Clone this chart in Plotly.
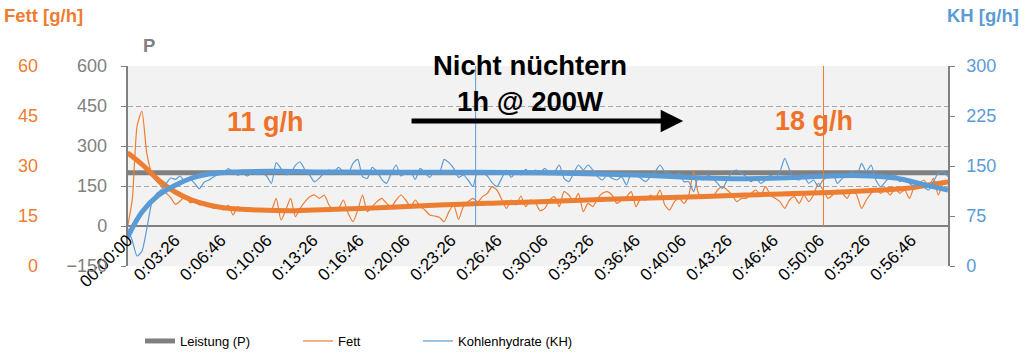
import plotly.graph_objects as go

W, H = 1024, 358

# ---------------- data ----------------
SAMPLE_STEP_S = 20.85  # resampled interval of the read-off series

fett_gh = [
    11.7, 20, 42, 46.5, 34, 28, 25.5, 24, 22, 20.5,
    18.5, 19.5, 21, 19, 19.3, 18.3, 18.8, 18, 17.3, 17.8,
    16.8, 18.3, 15.3, 17.8, 16.8, 17.3, 17.3, 16.8, 16.3, 16.8,
    16.8, 20.3, 13.8, 16.8, 20.3, 14.8, 17.3, 19.3, 20.8, 21.3,
    20.3, 21.3, 18.3,
    16.8, 17.3, 19.8, 15.8, 13.3, 16.8, 21.3, 16.3, 17.8, 19.3,
    20.3, 18.8, 17.8, 19.8, 21.3, 19.8, 17.8, 19.8, 17.8, 16.8,
    15.3, 15.0, 14.6, 13.3, 16.3, 18.3, 14.0, 17.8, 19.3, 20.3,
    19.3, 20.8, 21.8, 23.8, 22.8, 20.0, 17.3, 19.8, 18.3, 21.0,
    17.8, 19.8, 19.0, 16.6,
    17.3, 19.8, 20.8, 17.8, 22.3, 21.3, 19.3, 21.8, 16.3, 18.8,
    17.8, 20.3, 21.8, 22.3, 21.3, 18.8, 19.8, 20.8, 22.3, 17.8,
    20.3, 19.8, 21.3, 20.3, 22.8, 18.3, 16.8, 19.3, 20.3, 18.8,
    21.3, 28.3, 21.8, 20.3, 21.3, 20.8, 22.8, 23.8, 22.8, 21.3,
    19.3, 20.3,
    20.3, 21.8, 22.8, 21.3, 23.8, 21.3, 20.3, 19.3, 17.3, 19.8,
    20.8, 18.8, 21.3, 19.3, 21.3, 24.8, 22.8, 20.3, 21.3, 22.8,
    21.8, 20.3, 22.8, 21.3, 17.3, 19.8, 21.8, 23.3, 21.8, 22.8,
    21.3, 23.3, 21.8, 22.8, 20.3, 23.8, 24.8, 25.8, 23.8, 26.3,
    21.3, 24.8, 25.8,
]

kh_gh = [
    57, 38, 15, 22, 55, 93, 108, 114, 123, 132,
    130, 135, 126, 131, 124, 116, 126, 129, 134, 137,
    139, 146, 141, 136, 139, 135, 140, 137, 139, 135,
    124, 155, 146, 137, 139, 151, 156, 144, 136, 126,
    132, 140, 144,
    141.5, 148, 141.5, 139, 154, 160, 134, 131.5, 148, 141.5,
    130, 124, 139, 151.5, 135, 139, 141.5, 130, 146.5, 140,
    133, 141.5, 139, 160, 155, 146.5, 133, 136.5, 129, 119,
    143, 140, 135, 125, 119, 131.5, 144, 133, 141.5, 136.5,
    145, 139, 144, 140,
    146.5, 139, 141.5, 151.5, 131.5, 126.5, 139, 151.5, 144, 151.5,
    144, 134, 129, 136.5, 131.5, 129, 134, 121.5, 139, 136.5,
    131.5, 126.5, 134, 141.5, 151.5, 141.5, 139, 134, 139, 126.5,
    126.5, 111.5, 134, 129, 136.5, 131.5, 124, 116.5, 129, 141.5,
    144, 139,
    134, 126.5, 131.5, 124, 129, 136.5, 131.5, 141.5, 161.5, 144,
    131.5, 129, 134, 124, 129, 119, 129, 134, 139, 124,
    131.5, 136.5, 141.5, 134, 154, 141.5, 151.5, 129, 119, 126.5,
    134, 136.5, 126.5, 131.5, 124, 119, 126.5, 119, 114, 126.5,
    139, 141.5, 134,
]

fett_trend_s = [0, 66, 134, 207, 280, 353, 426, 572, 728, 906, 1146, 1354,
                1563, 1793, 2085, 2398, 2685, 3128, 3389, 3473, 3566]
fett_trend_gh = [34, 30.3, 25.8, 22.2, 19.8, 18.3, 17.4, 16.8, 16.6, 17.0, 17.6, 18.3,
                 18.8, 19.3, 20.0, 20.6, 21.3, 22.3, 23.3, 24.2, 25.2]

kh_trend_s = [0, 63, 134, 207, 280, 353, 454, 624, 906, 1354, 1793, 2207,
              2502, 2685, 2868, 3024, 3181, 3337, 3462, 3566]
kh_trend_gh = [43, 81, 106, 121, 132, 138, 141, 142, 141, 140.5, 140, 136.5,
               132, 131, 132.5, 134.5, 135.5, 132, 122, 114]

leistung_s = [0, 3566]
leistung_w = [200, 200]

marker_s = [1513, 3025]
marker_colors = ["#5B9BD5", "#ED7D31"]

tick_s = [0, 206, 406, 606, 806, 1006, 1206, 1406, 1606, 1806, 2006, 2206,
          2406, 2606, 2806, 3006, 3206, 3406]
tick_text = ["00:00:00", "0:03:26", "0:06:46", "0:10:06", "0:13:26", "0:16:46",
             "0:20:06", "0:23:26", "0:26:46", "0:30:06", "0:33:26", "0:36:46",
             "0:40:06", "0:43:26", "0:46:46", "0:50:06", "0:53:26", "0:56:46"]

p_ticks = [-150, 0, 150, 300, 450, 600]
fett_ticks = [0, 15, 30, 45, 60]
kh_ticks = [0, 75, 150, 225, 300]

sample_s = [round(i * SAMPLE_STEP_S, 2) for i in range(len(fett_gh))]

# ---------------- styling ----------------
ORANGE = "#ED7D31"
ORANGE_TXT = "#F07228"
BLUE = "#5B9BD5"
GRAY = "#808080"
FONT = "Liberation Sans, Arial, sans-serif"


def fx(px):
    return px / W


def fy(py):
    return 1 - py / H


X0, X1 = 127.5, 948
Y_TOP, Y_BOT = 66, 266
P_ZERO_PY = 226

fig = go.Figure()

fig.add_trace(go.Scatter(x=leistung_s, y=leistung_w, mode="lines", name="Leistung (P)",
                         line=dict(color=GRAY, width=5), yaxis="y", legend="legend"))
fig.add_trace(go.Scatter(x=sample_s, y=fett_gh, mode="lines", name="Fett",
                         line=dict(color=ORANGE, width=1.2, shape="spline", smoothing=0.6),
                         yaxis="y2", legend="legend2"))
fig.add_trace(go.Scatter(x=fett_trend_s, y=fett_trend_gh, mode="lines", showlegend=False,
                         line=dict(color=ORANGE, width=5, shape="spline"), yaxis="y2",
                         hoverinfo="skip"))
fig.add_trace(go.Scatter(x=sample_s, y=kh_gh, mode="lines", name="Kohlenhydrate (KH)",
                         line=dict(color=BLUE, width=1.2, shape="spline", smoothing=0.6),
                         yaxis="y3", legend="legend3"))
fig.add_trace(go.Scatter(x=kh_trend_s, y=kh_trend_gh, mode="lines", showlegend=False,
                         line=dict(color=BLUE, width=5, shape="spline"), yaxis="y3",
                         hoverinfo="skip"))

shapes = []
for ms, mc in zip(marker_s, marker_colors):
    shapes.append(dict(type="line", xref="x", yref="y", x0=ms, x1=ms, y0=0, y1=600,
                       line=dict(color=mc, width=1), layer="above"))


def label(text, px, py, size, color):
    return dict(text=text, x=fx(px), y=fy(py), xref="paper", yref="paper",
                xanchor="center", yanchor="middle", showarrow=False,
                font=dict(size=size, color=color, family=FONT))


annotations = [
    label("<b>Fett [g/h]</b>", 43, 16, 18.5, ORANGE),
    label("<b>P</b>", 149, 45, 18.5, GRAY),
    label("<b>KH [g/h]</b>", 983, 15, 18.5, BLUE),
    label("<b>Nicht nüchtern</b>", 530, 66, 27.5, "black"),
    label("<b>1h @ 200W</b>", 530, 102, 27.5, "black"),
    label("<b>11 g/h</b>", 265, 122, 27, ORANGE_TXT),
    label("<b>18 g/h</b>", 814, 121, 27, ORANGE_TXT),
    dict(text="", x=2415, y=394, ax=1228, ay=394, xref="x", yref="y", axref="x", ayref="y",
         showarrow=True, arrowhead=2, arrowsize=0.9, arrowwidth=5, arrowcolor="black"),
]

legend_common = dict(orientation="h", yanchor="middle", xanchor="left",
                     bgcolor="rgba(0,0,0,0)", font=dict(size=13, color="black", family=FONT),
                     borderwidth=0)

fig.update_layout(
    width=W, height=H, autosize=False,
    margin=dict(l=0, r=0, t=0, b=0, autoexpand=False),
    paper_bgcolor="white", plot_bgcolor="#F2F2F2",
    font=dict(family=FONT),
    xaxis=dict(domain=[fx(X0), fx(X1)], range=[0, 3566], anchor="free", automargin=False,
               position=fy(P_ZERO_PY), tickmode="array", tickvals=tick_s, ticktext=tick_text,
               tickangle=-45, tickfont=dict(size=17, color="black", family=FONT),
               showgrid=False, zeroline=False, showline=False, ticks=""),
    yaxis=dict(domain=[fy(Y_BOT), fy(Y_TOP)], range=[-150, 600], tickvals=p_ticks,
               automargin=False,
               showgrid=True, gridcolor="#A6A6A6", gridwidth=1, griddash="5px,3px",
               zeroline=True, zerolinecolor=GRAY, zerolinewidth=1.5,
               showline=True, linecolor=GRAY, linewidth=1.5,
               ticks="outside", ticklen=5, tickcolor=GRAY, ticklabelstandoff=10,
               tickfont=dict(size=18, color=GRAY, family=FONT)),
    yaxis2=dict(overlaying="y", anchor="free", position=fx(38), side="left",
                automargin=False,
                range=[0, 60], tickvals=fett_ticks, showgrid=False, zeroline=False,
                showline=False, ticks="", tickfont=dict(size=18, color=ORANGE, family=FONT)),
    yaxis3=dict(overlaying="y", anchor="x", side="right", range=[0, 300], tickvals=kh_ticks,
                automargin=False,
                showgrid=False, zeroline=False, showline=True, linecolor=GRAY, linewidth=1.5,
                ticks="outside", ticklen=5, tickcolor=GRAY, ticklabelstandoff=8,
                tickfont=dict(size=18, color=BLUE, family=FONT)),
    legend=dict(x=fx(140), y=fy(341), **legend_common),
    legend2=dict(x=fx(298), y=fy(341), **legend_common),
    legend3=dict(x=fx(418), y=fy(341), **legend_common),
    shapes=shapes,
    annotations=annotations,
)

fig.write_html("out.html", config={"displayModeBar": False},
               post_script="document.body.style.margin='0';document.body.style.overflow='hidden';")
